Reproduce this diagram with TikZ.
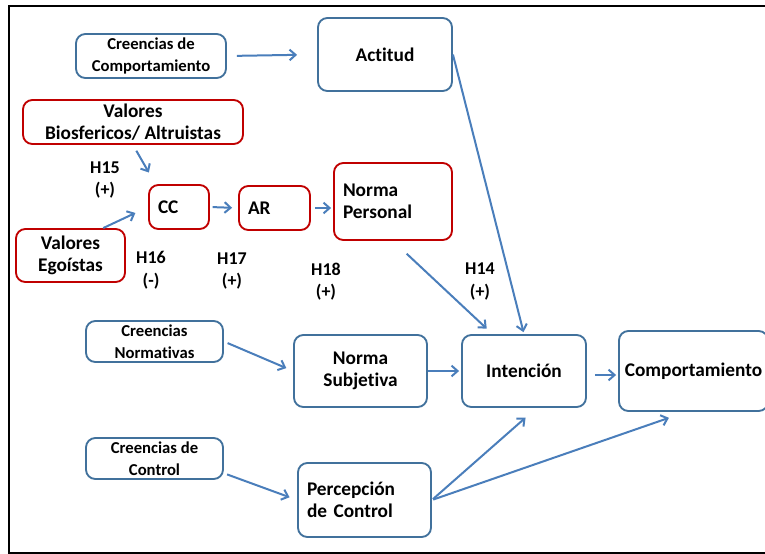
\documentclass[tikz,border=0pt]{standalone}
\usepackage{fontspec}
\setmainfont{Carlito}[RawFeature=-liga]
\usetikzlibrary{arrows.meta,calc}
\definecolor{borde}{RGB}{65,113,156}
\definecolor{flecha}{RGB}{74,126,187}
\definecolor{rojo}{RGB}{192,0,0}

\begin{document}
\begin{tikzpicture}[x=0.75pt,y=-0.75pt,
  caja/.style={draw=borde, line width=1.4pt, rounded corners=7pt, align=center,
    inner sep=2pt, font=\bfseries\fontsize{14.5}{16.5}\selectfont},
  cajita/.style={caja, font=\bfseries\fontsize{12.5}{16.5}\selectfont},
  rcaja/.style={caja, draw=rojo},
  izq/.style={align=left, inner xsep=6.75pt},
  hip/.style={align=center, font=\bfseries\fontsize{13.5}{17}\selectfont},
  flech/.style={draw=flecha, line width=1.5pt, -{Straight Barb[length=4.5pt,width=8pt]}}]
\useasboundingbox (0,0) rectangle (765,554);
\draw[line width=1.5pt] (765,6) -- (9,6) -- (9,553) -- (765,553);

\node[cajita, minimum width=112.5pt, minimum height=33pt] (cdc) at (151,56) {Creencias de\\Comportamiento};
\node[caja, minimum width=100.5pt, minimum height=54.75pt] (act) at (385,54.5) {Actitud};
\node[rcaja, minimum width=165pt, minimum height=33pt] (bio) at (133,122) {Valores\\Biosfericos/ Altruistas};
\node[rcaja, izq, text width=31.5pt, minimum height=33pt] (cc) at (179,207) {CC};
\node[rcaja, izq, text width=39.75pt, minimum height=33pt] (ar) at (274.5,208) {AR};
\node[rcaja, izq, text width=75pt, minimum height=57.75pt] (np) at (393,201.5) {Norma\\Personal};
\node[rcaja, minimum width=81.75pt, minimum height=39.75pt] (ego) at (70.5,255.5) {Valores\\Ego\'istas};
\node[cajita, minimum width=102.75pt, minimum height=30.75pt] (cn) at (154.5,341.5) {Creencias\\Normativas};
\node[caja, minimum width=99.75pt, minimum height=54pt] (ns) at (360.5,371) {Norma\\Subjetiva};
\node[caja, minimum width=93pt, minimum height=54pt] (int) at (524,371) {Intenci\'on};
\node[caja, minimum width=111.75pt, minimum height=60pt] (comp) at (693.5,371) {Comportamiento};
\node[cajita, minimum width=102.75pt, minimum height=30.75pt] (cdct) at (154.5,458.5) {Creencias de\\Control};
\node[caja, izq, text width=86.25pt, minimum height=55.5pt] (pc) at (364.5,500) {Percepci\'on\\de Control};

\node[hip] (h15) at (105,180) {H15\\(+)};
\node[hip] (h16) at (151,270) {H16\\(-)};
\node[hip] (h17) at (232,271) {H17\\(+)};
\node[hip] (h18) at (326,281.5) {H18\\(+)};
\node[hip] (h14) at (480,281.5) {H14\\(+)};

\draw[flech, shorten <=7.5pt, shorten >=15pt] (cdc.east) -- (act.west);
\draw[flech, shorten <=5pt, shorten >=10pt] (bio.south) -- ($(cc.north west)!0.12!(cc.north east)$);
\draw[flech, shorten >=10.5pt] (ego.40) -- (cc.west);
\draw[flech, shorten <=2pt, shorten >=4.5pt] (cc.east) -- (ar.west);
\draw[flech, shorten <=3pt, shorten >=1.5pt] (ar.east) -- (ar.east -| np.west);
\draw[flech, shorten >=1.5pt] (act.east) -- (int.north);
\draw[flech, shorten <=14pt, shorten >=6pt] (np.south) -- ($(int.north west)!0.25!(int.north east)$);
\draw[flech, shorten <=3pt, shorten >=5.5pt] (cn.east) -- (ns.west);
\draw[flech, shorten >=1.5pt] (ns.east) -- (int.west);
\draw[flech, shorten <=6pt, shorten >=1.5pt] ([yshift=-3pt]int.east) -- ([yshift=-3pt]int.east -| comp.west);
\draw[flech, shorten <=2.5pt, shorten >=6pt] (cdct.-12) -- (pc.west);
\draw[flech, shorten <=1pt, shorten >=11pt] (pc.east) -- ($(int.south west)!0.6!(int.south east)$);
\draw[flech, shorten <=1pt, shorten >=13.5pt] (pc.east) -- ($(comp.south west)!0.45!(comp.south east)$);
\end{tikzpicture}
\end{document}
